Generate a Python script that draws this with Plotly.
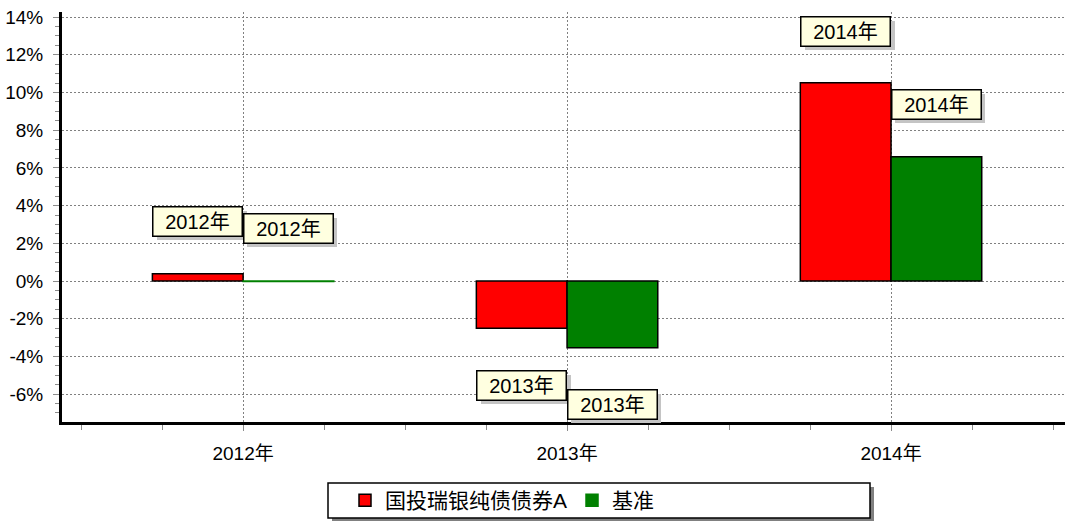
import plotly.graph_objects as go

categories = ["2012年", "2013年", "2014年"]
fund_name = "国投瑞银纯债债券A"
bench_name = "基准"
fund_values = [0.38, -2.51, 10.52]
bench_values = [-0.03, -3.54, 6.59]
y_tick_values = [-6, -4, -2, 0, 2, 4, 6, 8, 10, 12, 14]
y_tick_labels = [f"{v}%" for v in y_tick_values]

FONT = "Liberation Sans, Arial, Noto Sans CJK SC, sans-serif"
L, T, B = 62, 12, 99
W, H = 1065, 521
PW, PH = W - L, H - T - B

def px_x(p):
    return (p - L) / PW

def px_y(p):
    return (H - B - p) / PH

xs = list(range(len(categories)))
fig = go.Figure()
fig.add_trace(go.Bar(x=xs, y=fund_values, name=fund_name,
                     marker=dict(color="#FF0000", line=dict(color="black", width=1.5))))
bench_outline = ["#008000" if abs(v) < 0.1 else "black" for v in bench_values]
fig.add_trace(go.Bar(x=xs, y=bench_values, name=bench_name,
                     marker=dict(color="#008000", line=dict(color=bench_outline, width=1.5))))

# callout labels (position style: offsets relative to bars)
label_y_fund = [3.16, -5.53, 13.26]
label_y_bench = [2.79, -6.53, 9.37]
for i, cat in enumerate(categories):
    for dx, ly in ((-0.14, label_y_fund[i]), (0.14, label_y_bench[i])):
        fig.add_annotation(x=xs[i] + dx, y=ly, text="", showarrow=False,
                           width=88, height=27, bgcolor="#C4C4C4",
                           xshift=4, yshift=-4, borderwidth=0)
        fig.add_annotation(x=xs[i] + dx, y=ly, text=cat, showarrow=False,
                           width=86, height=26, bgcolor="#FFFFE0",
                           bordercolor="black", borderwidth=1.5,
                           font=dict(family=FONT, size=20, color="black"))

# legend frame + shadow
fig.add_shape(type="rect", xref="paper", yref="paper",
              x0=px_x(332), x1=px_x(874), y0=px_y(487), y1=px_y(522),
              fillcolor="#808080", line=dict(width=0), layer="below")
fig.add_shape(type="rect", xref="paper", yref="paper",
              x0=px_x(328), x1=px_x(870), y0=px_y(483), y1=px_y(518),
              fillcolor="white", line=dict(color="black", width=1.5), layer="below")

GRID_DASH = "2px,2px"
fig.update_layout(
    width=W, height=H,
    margin=dict(l=L, r=0, t=T, b=B),
    plot_bgcolor="white", paper_bgcolor="white",
    barmode="group", bargap=0.44, bargroupgap=0,
    font=dict(family=FONT, size=18, color="black"),
    showlegend=True,
    legend=dict(orientation="h", x=px_x(345), xanchor="left",
                y=px_y(500.5), yanchor="middle",
                font=dict(family=FONT, size=21, color="black"),
                bgcolor="rgba(0,0,0,0)", borderwidth=0, itemwidth=30),
    xaxis=dict(range=[-0.559, 2.537], tickmode="array", tickvals=xs,
               ticktext=categories, showgrid=True, gridcolor="#808080",
               griddash=GRID_DASH, gridwidth=1, zeroline=False,
               showline=True, linecolor="black", linewidth=3,
               ticks="outside", ticklen=6, tickcolor="#8C8C8C", tickwidth=1,
               ticklabelstandoff=6,
               minor=dict(dtick=0.25, tick0=0, ticks="outside", ticklen=5,
                          tickcolor="#8C8C8C", showgrid=False),
               tickfont=dict(size=19)),
    yaxis=dict(range=[-7.48, 14.27], tickmode="array", tickvals=y_tick_values,
               ticktext=y_tick_labels, showgrid=True, gridcolor="#808080",
               griddash=GRID_DASH, gridwidth=1, zeroline=False,
               showline=True, linecolor="black", linewidth=3,
               ticks="outside", ticklen=6, tickcolor="#8C8C8C", tickwidth=1,
               ticklabelstandoff=6,
               minor=dict(dtick=0.5, tick0=0, ticks="outside", ticklen=4,
                          tickcolor="#8C8C8C", showgrid=False),
               tickfont=dict(size=19)),
)

fig.write_html("out.html", config={"displayModeBar": False},
               post_script="document.body.style.margin='0';document.body.style.overflow='hidden';")
